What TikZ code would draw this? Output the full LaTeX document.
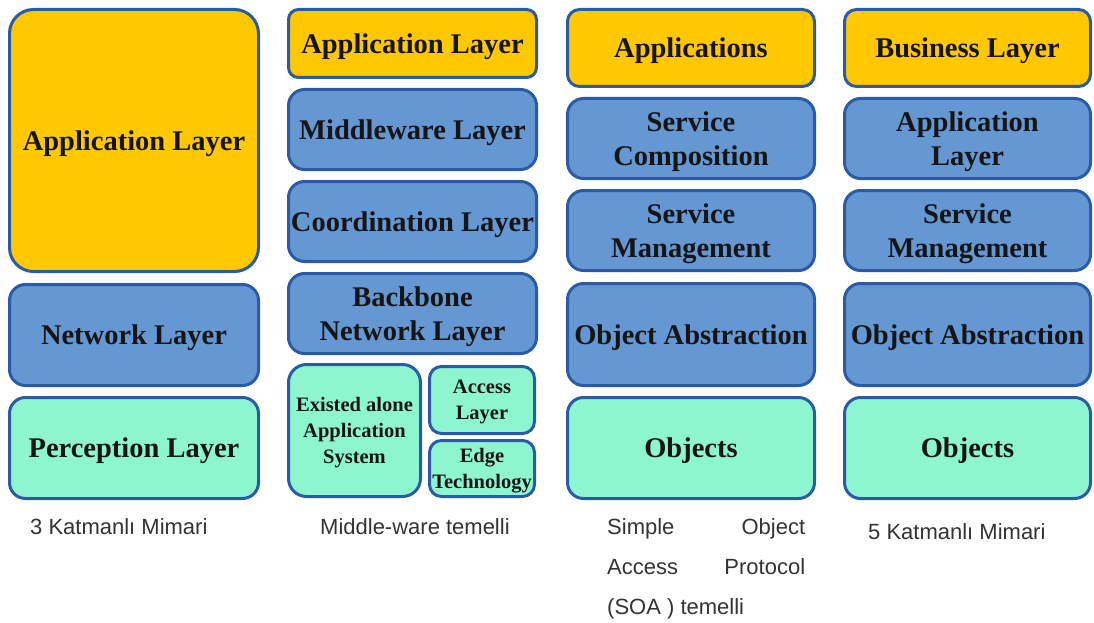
\documentclass[tikz,border=0pt]{standalone}
\usepackage{fontspec}
\setmainfont{Liberation Serif}
\newfontfamily\labelfont{Liberation Sans}
\definecolor{ylw}{HTML}{FFC800}
\definecolor{blu}{HTML}{6597D2}
\definecolor{teal2}{HTML}{8EF6CF}
\definecolor{edge}{HTML}{2A5BA6}
\definecolor{txt}{HTML}{151515}
\definecolor{lbl}{HTML}{333333}
\tikzset{
  layerbox/.style={draw=edge, line width=3pt, rounded corners=16pt, align=center,
    text=txt, font=\fontsize{28.5}{34}\selectfont\bfseries, inner sep=0pt, text depth=0pt},
  ybox/.style={layerbox, fill=ylw},
  bbox/.style={layerbox, fill=blu},
  tbox/.style={layerbox, fill=teal2},
  smallbox/.style={font=\fontsize{20.5}{26}\selectfont\bfseries, rounded corners=12pt},
  caption/.style={font=\labelfont\fontsize{22}{40}\selectfont, text=lbl, inner sep=0pt, align=left},
}
\newcommand{\bx}[7]{% name, style, cx, cy, w, h, text
  \node[#2, minimum width=#5pt, minimum height=#6pt] (#1) at (#3,#4) {#7};}
\begin{document}
\begin{tikzpicture}[x=1pt,y=-1pt]
\useasboundingbox[fill=white] (0,0) rectangle (1094,623);
% column 1
\bx{c1app}{ybox, rounded corners=24pt}{134}{140.5}{249}{262}{Application Layer}
\bx{c1net}{bbox}{134}{335}{249}{101}{Network Layer}
\bx{c1per}{tbox}{134}{448}{249}{101}{Perception Layer}
% column 2
\bx{c2app}{ybox, rounded corners=10pt}{412.5}{43.5}{248}{68}{Application Layer}
\bx{c2mid}{bbox}{412.5}{129.5}{248}{80}{Middleware Layer}
\bx{c2coo}{bbox}{412.5}{221.5}{248}{80}{Coordination Layer}
\bx{c2bb}{bbox}{412.5}{313.5}{248}{80}{Backbone\\Network Layer}
\bx{c2ex}{tbox, smallbox, rounded corners=18pt}{354.5}{430.5}{132}{132}{Existed alone\\Application\\System}
\bx{c2acc}{tbox, smallbox}{482}{400}{105}{67}{Access\\Layer}
\bx{c2edg}{tbox, smallbox}{482}{468.5}{105}{56}{Edge\\Technology}
% column 3
\bx{c3app}{ybox, rounded corners=12pt}{691}{48}{247}{77}{Applications}
\bx{c3sc}{bbox}{691}{138.5}{247}{80}{Service\\Composition}
\bx{c3sm}{bbox}{691}{230.5}{247}{80}{Service\\Management}
\bx{c3oa}{bbox}{691}{334.5}{247}{102}{Object Abstraction}
\bx{c3obj}{tbox}{691}{448}{247}{101}{Objects}
% column 4
\bx{c4bus}{ybox, rounded corners=12pt}{967.5}{48}{246}{77}{Business Layer}
\bx{c4app}{bbox}{967.5}{138.5}{246}{80}{Application\\Layer}
\bx{c4sm}{bbox}{967.5}{230.5}{246}{80}{Service\\Management}
\bx{c4oa}{bbox}{967.5}{334.5}{246}{102}{Object Abstraction}
\bx{c4obj}{tbox}{967.5}{448}{246}{101}{Objects}
% captions
\node[caption, anchor=west] (cap1) at (30,527) {3 Katmanlı Mimari};
\node[caption, anchor=west] (cap2) at (320,527) {Middle-ware temelli};
\node[caption, anchor=north west] (cap3) at (607,518) {\hbox to 198pt{Simple\hfill Object}\\\hbox to 198pt{Access\hfill Protocol}\\(SOA ) temelli};
\node[caption, anchor=west] (cap4) at (868,532) {5 Katmanlı Mimari};
\end{tikzpicture}
\end{document}
